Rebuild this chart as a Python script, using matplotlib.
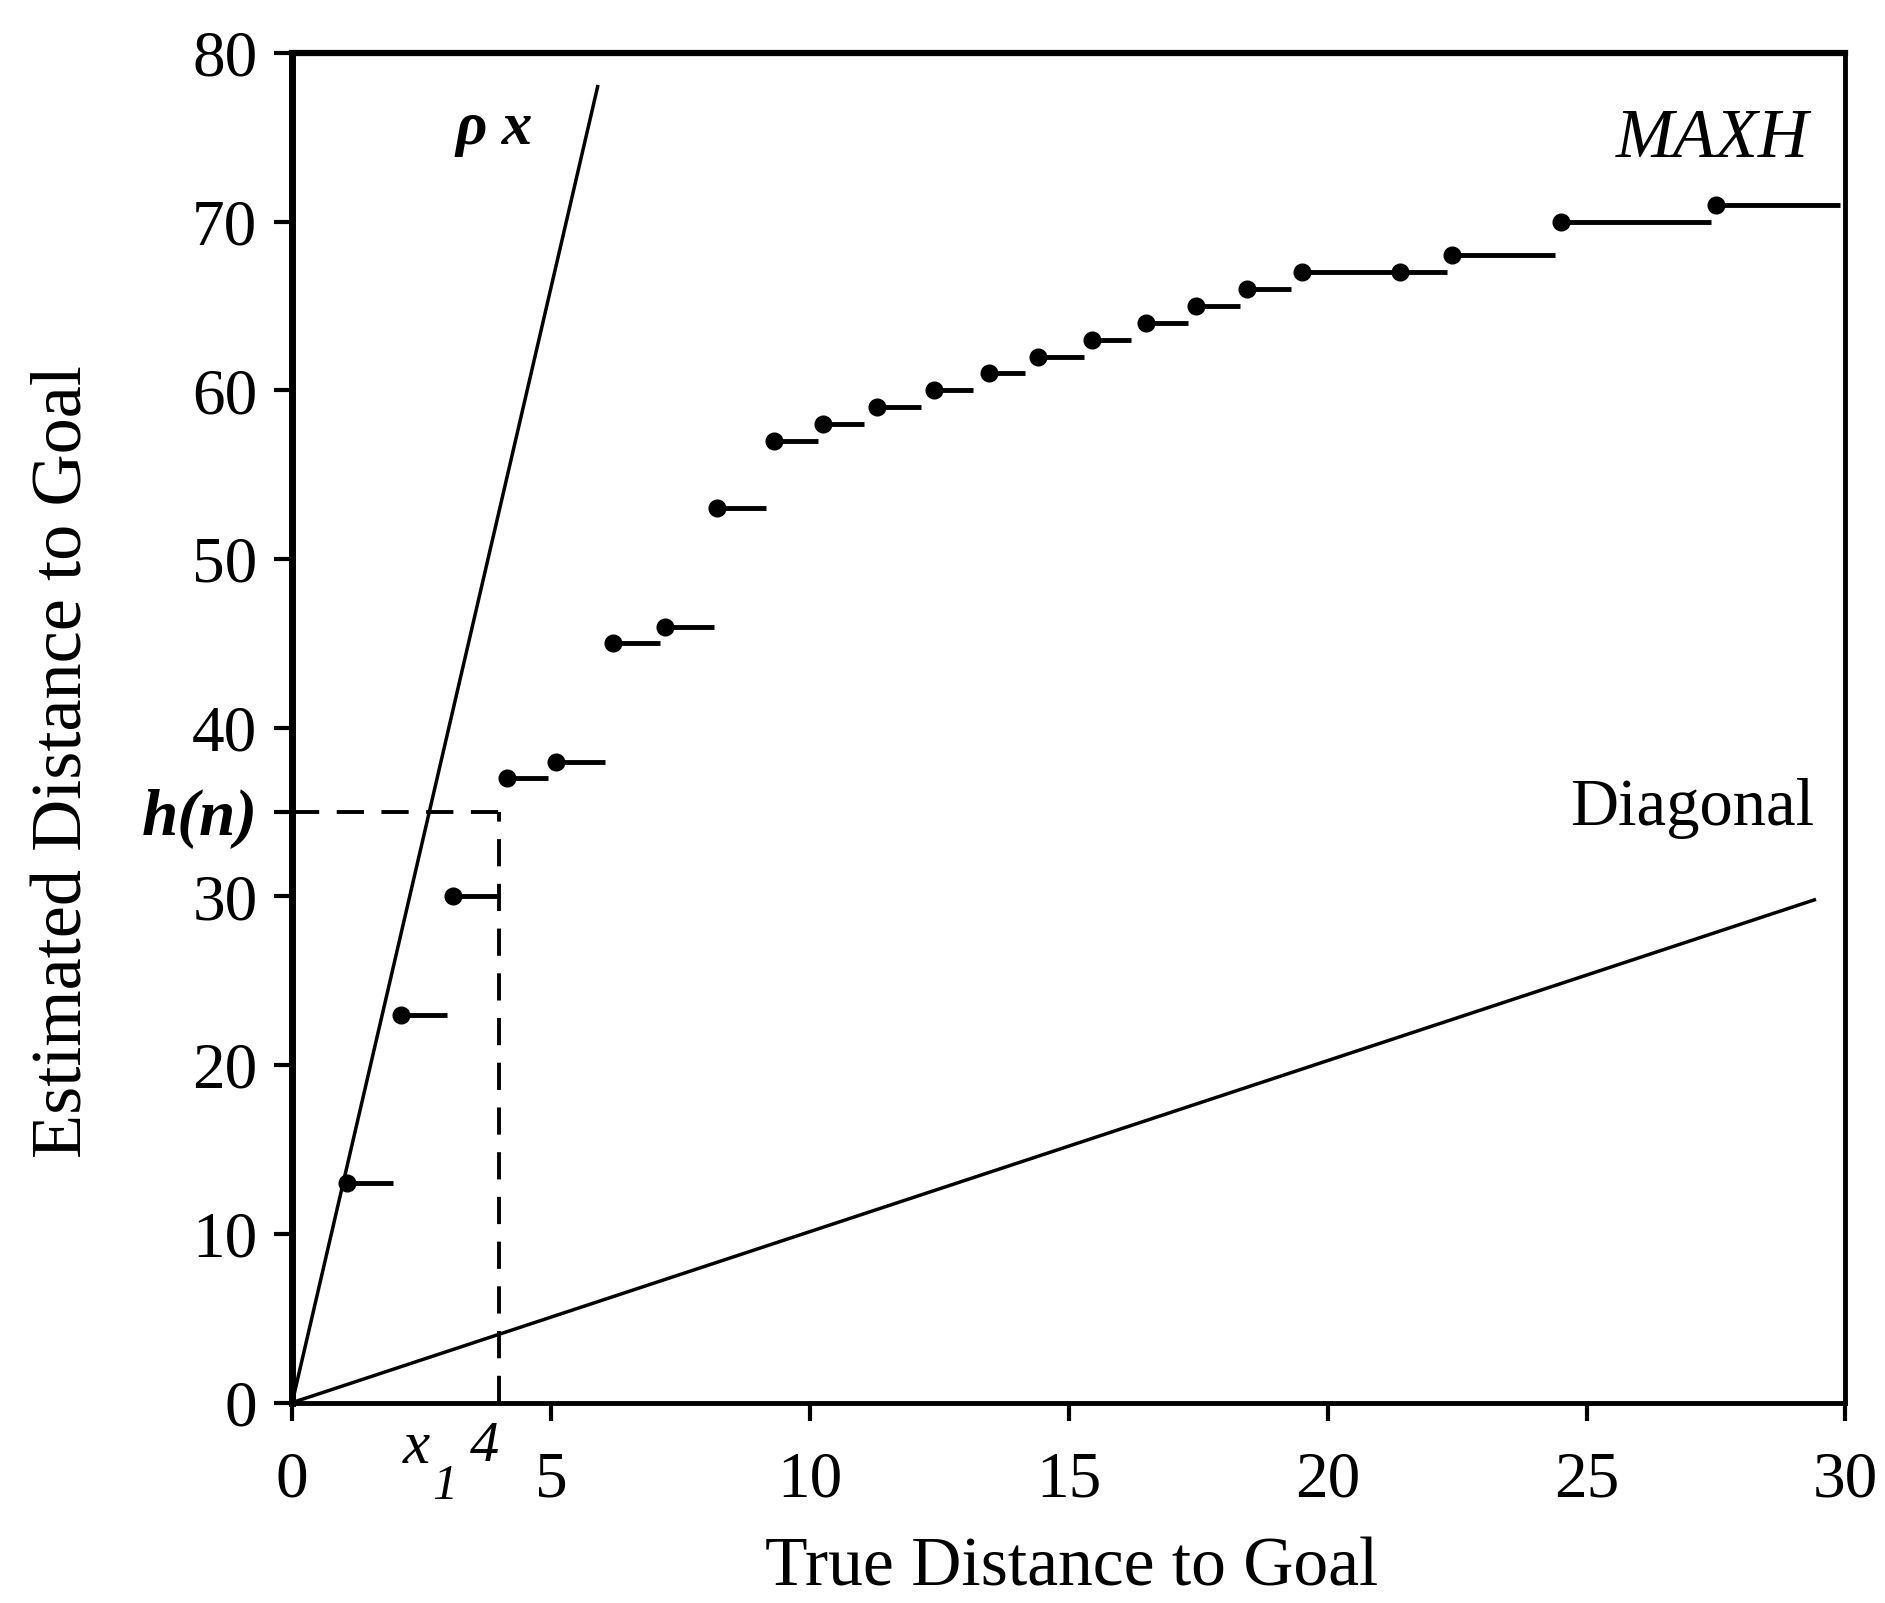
import numpy as np
import matplotlib.pyplot as plt

plt.rcParams['font.family'] = ['Liberation Serif', 'DejaVu Serif']

# axis ticks
x_ticks = [0, 5, 10, 15, 20, 25, 30]
y_ticks = [0, 10, 20, 30, 40, 50, 60, 70, 80]

# MAXH steps (start x, end x, estimated distance)
step_start = [1.05, 2.1, 3.1, 4.15, 5.1, 6.2, 7.2, 8.2, 9.3, 10.25, 11.3, 12.4,
              13.45, 14.4, 15.45, 16.5, 17.45, 18.45, 19.5, 21.4, 22.4, 24.5, 27.5]
step_end = [1.95, 3.0, 4.0, 4.95, 6.05, 7.1, 8.15, 9.15, 10.15, 11.05, 12.15, 13.15,
            14.15, 15.3, 16.2, 17.3, 18.3, 19.3, 21.4, 22.3, 24.4, 27.4, 29.9]
step_value = [13, 23, 30, 37, 38, 45, 46, 53, 57, 58, 59, 60,
              61, 62, 63, 64, 65, 66, 67, 67, 68, 70, 71]

# reference lines
rho_x = [0, 5.9]
rho_y = [0, 78]
diag_x = [0, 29.4]
diag_y = [0, 29.8]

# h(n) marker
h_n = 35
x_hn = 4

fig = plt.figure(figsize=(18.85, 16.03), dpi=100)
ax = fig.add_axes([0.155, 0.125, 0.824, 0.842])

ax.plot(rho_x, rho_y, color='black', lw=2.5)
ax.plot(diag_x, diag_y, color='black', lw=2.5)
ax.hlines(step_value, step_start, step_end, colors='black', lw=3.5)
ax.plot(step_start, step_value, 'o', color='black', ms=12)

# dashed guide lines
ax.plot([0, x_hn], [h_n, h_n], color='black', lw=2.8, dashes=(7, 4.5))
ax.plot([x_hn, x_hn], [0, h_n], color='black', lw=2.8, dashes=(7, 4.5))

ax.set_xlim(0, 30)
ax.set_ylim(0, 80)
ax.set_xticks(x_ticks)
ax.set_xticklabels([str(v) for v in x_ticks])
ax.set_yticks(y_ticks + [h_n])
ax.set_yticklabels([str(v) for v in y_ticks] + ['h(n)'])
hl = ax.get_yticklabels()[-1]
hl.set_fontstyle('italic')
hl.set_fontweight('bold')

ax.tick_params(direction='out', length=13, width=3, labelsize=47)
ax.tick_params(axis='x', pad=22)
ax.tick_params(axis='y', pad=12)

ax.spines['left'].set_linewidth(5)
ax.spines['top'].set_linewidth(4.5)
ax.spines['right'].set_linewidth(3.5)
ax.spines['bottom'].set_linewidth(3.5)

# labels
ax.set_xlabel('True Distance to Goal', fontsize=50)
ax.xaxis.set_label_coords(0.502, -0.123)
ax.xaxis.label.set_va('center')
ax.set_ylabel('Estimated Distance to Goal', fontsize=52)
ax.yaxis.set_label_coords(-0.147, 0.475)
ax.yaxis.label.set_va('center')

# annotations
ax.text(3.9, 75.5, 'ρ x', fontsize=44, style='italic', fontweight='bold', ha='center', va='center')
ax.text(29.3, 74.8, 'MAXH', fontsize=50, style='italic', ha='right', va='center')
ax.text(29.4, 35.2, 'Diagonal', fontsize=48, ha='right', va='center')

tr = ax.get_xaxis_transform()
ax.text(2.4, -0.034, 'x', fontsize=44, style='italic', ha='center', va='center', transform=tr)
ax.text(2.95, -0.062, '1', fontsize=36, style='italic', ha='center', va='center', transform=tr)
ax.text(3.72, -0.033, '4', fontsize=42, style='italic', ha='center', va='center', transform=tr)

plt.savefig('out.png', dpi=100)
